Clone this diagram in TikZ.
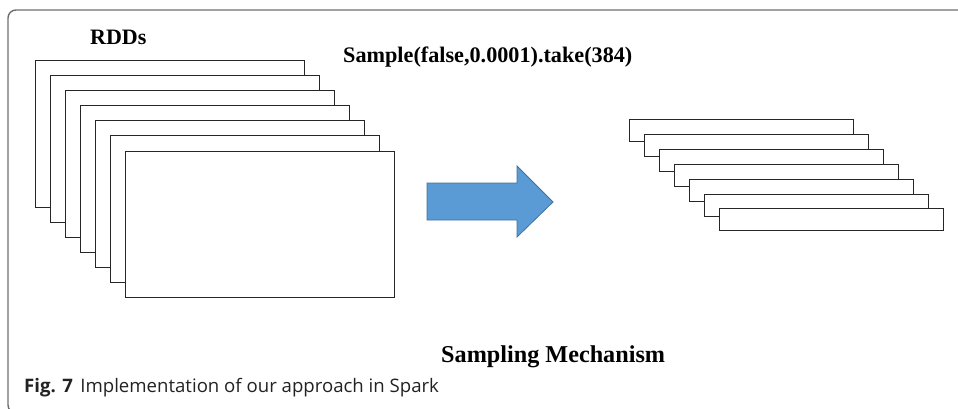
\documentclass[tikz,border=0pt]{standalone}
\usepackage{fontspec}
\setmainfont{Liberation Serif}
\newfontfamily\capfont{Open Sans}
\definecolor{framegray}{HTML}{6E6E6E}
\definecolor{arrowfill}{HTML}{5B9BD5}
\definecolor{arrowedge}{HTML}{41719C}
\definecolor{captext}{HTML}{222222}
\begin{document}
\begin{tikzpicture}[x=1pt,y=-1pt,
  rddbox/.style={draw=black!85,line width=1pt,fill=white,anchor=north west,
    minimum width=269pt,minimum height=146pt,inner sep=0pt,outer sep=0pt},
  samplebox/.style={draw=black!85,line width=1pt,fill=white,anchor=north west,
    minimum width=224pt,minimum height=22pt,inner sep=0pt,outer sep=0pt},
  label/.style={anchor=base west,inner sep=0pt,font=\bfseries},
  blockarrow/.style={fill=arrowfill,draw=arrowedge,line width=0.8pt,line join=miter}]
\useasboundingbox (0,0) rectangle (958,409);
% outer frame with rounded corners
\draw[framegray,line width=1.4pt] (960,10) -- (16,10) arc[start angle=270,end angle=180,radius=8]
  -- (8,405) arc[start angle=180,end angle=90,radius=8] -- (40,413);
% stack of RDD partitions
\foreach \i in {0,...,6}
  \node[rddbox] (rdd\i) at ({35+15*\i},{61+15*\i}) {};
% stack of sampled partitions
\foreach \i in {0,...,6}
  \node[samplebox] (smp\i) at ({629+15*\i},{120+14.83*\i}) {};
% block arrow
\draw[blockarrow] (427,183) -- (517,183) -- (517,166) -- (553,202) -- (517,237)
  -- (517,220) -- (427,220) -- cycle;
% texts
\node[label,font=\bfseries\fontsize{22}{26}\selectfont] (rddlabel) at (90,45) {RDDs};
\node[label,font=\bfseries\fontsize{22.2}{26}\selectfont] (oplabel) at (343,63) {Sample(false,0.0001).take(384)};
\node[label,font=\bfseries\fontsize{24.2}{28}\selectfont] (mechlabel) at (441,362) {Sampling Mechanism};
\node[anchor=base west,inner sep=0pt,text=captext,font=\capfont\fontsize{18.6}{22}\selectfont] (caption) at (24,392)
  {\textbf{Fig. 7}\hspace{0.4em}Implementation of our approach in Spark};
\end{tikzpicture}
\end{document}
